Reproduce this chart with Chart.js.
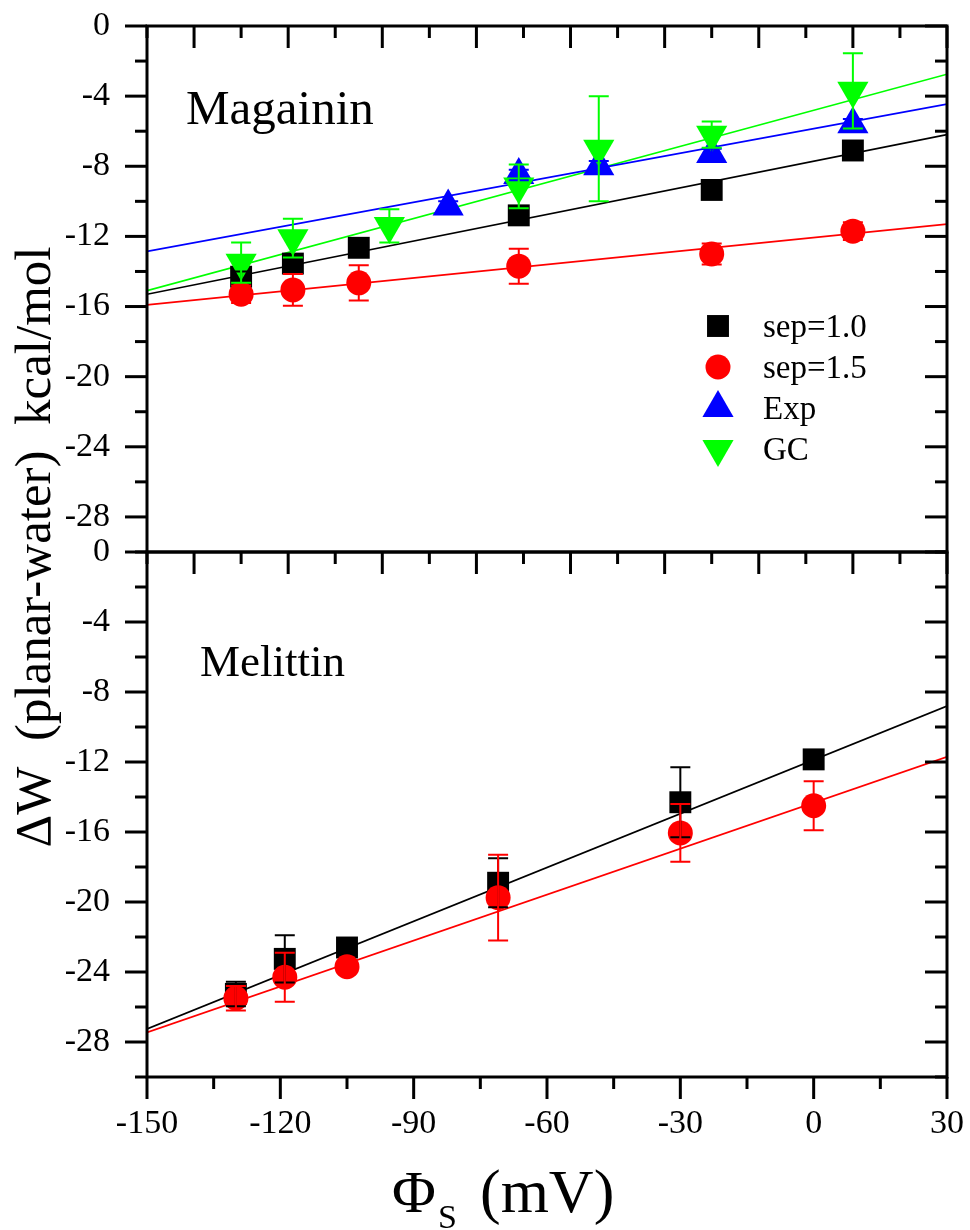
<!DOCTYPE html>
<html>
<head>
<meta charset="utf-8">
<script src="https://cdn.jsdelivr.net/npm/chart.js@4.4.1/dist/chart.umd.min.js"></script>
<style>
  html, body { margin: 0; padding: 0; background: #fff; }
  #wrap { position: relative; width: 970px; height: 1230px; }
  #wrap canvas { position: absolute; left: 0; top: 0; }
</style>
</head>
<body>
<div id="wrap">
  <canvas id="melittin" width="970" height="1230"></canvas>
  <canvas id="magainin" width="970" height="1230"></canvas>
</div>
<script>
// Magainin (upper panel), potential axis runs -150..20 mV
const magX = [-130, -119, -105, -71, -30, 0];
const magSep10 = [-14.3, -13.55, -12.65, -10.8, -9.35, -7.1];
const magSep10Err = [0.3, 0.3, 0.3, 0.3, 0.3, 0.3];
const magSep15 = [-15.3, -15.05, -14.65, -13.7, -13.0, -11.7];
const magSep15Err = [0.5, 0.9, 1.0, 1.0, 0.6, 0.5];
const magExpX = [-86, -71, -54, -30, 0];
const magExp = [-10.3, -8.5, -8.0, -7.3, -5.6];
const magExpErr = [0.3, 0.3, 0.3, 0.3, 0.3];
const magGcX = [-130, -119, -98.5, -71, -54, -30, 0];
const magGc = [-13.5, -12.1, -11.4, -9.15, -7.0, -6.2, -3.7];
const magGcErr = [1.15, 1.1, 0.95, 1.25, 3.0, 0.75, 2.15];

// linear fits, value at both ends of the axis
const magFitX = [-150, 20];
const magFitSep10 = [-15.3, -6.2];
const magFitSep15 = [-15.9, -11.3];
const magFitExp = [-12.85, -4.45];
const magFitGc = [-15.1, -2.75];

// Melittin (lower panel), potential axis runs -150..30 mV
const melX = [-130, -119, -105, -71, -30, 0];
const melSep10 = [-25.25, -23.25, -22.6, -18.9, -14.3, -11.85];
const melSep10Err = [0.7, 1.35, 0.3, 1.4, 2.0, 0.3];
const melSep15 = [-25.5, -24.3, -23.7, -19.75, -16.05, -14.5];
const melSep15Err = [0.7, 1.4, 0.3, 2.45, 1.65, 1.4];

const melFitX = [-150, 30];
const melFitSep10 = [-27.25, -8.8];
const melFitSep15 = [-27.45, -11.7];

// tick values
const yLabels = [0, -4, -8, -12, -16, -20, -24, -28];
const yMinor = [-2, -6, -10, -14, -18, -22, -26, -30];
const magXMajor = [-140, -120, -100, -80, -60, -40, -20, 0, 20];
const magXMinor = [-150, -130, -110, -90, -70, -50, -30, -10, 10];
const melXLabels = [-150, -120, -90, -60, -30, 0, 30];
const melXMinor = [-135, -105, -75, -45, -15, 15];

const SERIF = '"Liberation Serif", "Times New Roman", serif';
const BLACK = '#000000', RED = '#ff0000', BLUE = '#0000ff', GREEN = '#00ff00';

function pts(xs, ys) {
    return xs.map((x, i) => ({ x: x, y: ys[i] }));
}

function markerSet(label, xs, ys, errs, color, style, radius, rotation, order) {
    return {
        type: 'scatter', label: label, data: pts(xs, ys), errorBars: errs,
        backgroundColor: color, borderColor: color, borderWidth: 0,
        pointStyle: style, pointRadius: radius, pointHoverRadius: radius,
        pointRotation: rotation, order: order
    };
}

function fitLine(xs, ys, color) {
    return {
        type: 'line', data: pts(xs, ys), borderColor: color, borderWidth: 1.7,
        pointRadius: 0, fill: false, order: 10
    };
}

function yScale() {
    return {
        type: 'linear', min: -30, max: 0,
        afterBuildTicks: s => { s.ticks = yLabels.map(v => ({ value: v })); },
        ticks: { font: { family: SERIF, size: 34 }, color: '#000', padding: 15 },
        grid: { display: false, drawTicks: true, tickLength: 22 },
        border: { display: false },
        afterFit: s => {
            s.width = 147;
            // labels may hang over the plot edge, keep the plot box fixed
            s.paddingTop = 0;
            s.paddingBottom = 0;
        }
    };
}

// box around the plot area with major/minor tick marks
const frameTicks = {
    id: 'frameTicks',
    afterDraw(chart, args, opts) {
        const ctx = chart.ctx, a = chart.chartArea;
        const xs = chart.scales.x, ys = chart.scales.y;
        const sides = opts.sides;
        const seg = (x1, y1, x2, y2) => { ctx.beginPath(); ctx.moveTo(x1, y1); ctx.lineTo(x2, y2); ctx.stroke(); };
        ctx.save();
        ctx.strokeStyle = '#000';
        ctx.lineWidth = 3;
        ctx.lineJoin = 'miter';
        ctx.strokeRect(a.left, a.top, a.right - a.left, a.bottom - a.top);
        const xTicks = (vals, len) => vals.forEach(v => {
            const px = xs.getPixelForValue(v);
            if (sides.top) seg(px, a.top, px, a.top + (sides.top === 'in' ? len : -len));
            if (sides.bottom) seg(px, a.bottom, px, a.bottom + (sides.bottom === 'out' ? len : -len));
        });
        const yTicks = (vals, len) => vals.forEach(v => {
            const py = ys.getPixelForValue(v);
            if (sides.left) seg(a.left, py, a.left + (sides.left === 'in' ? len : -len), py);
            if (sides.right) seg(a.right, py, a.right + (sides.right === 'out' ? len : -len), py);
        });
        xTicks(opts.xMajor, 22);
        xTicks(opts.xMinor, 12);
        yTicks(opts.yMajor, 22);
        yTicks(opts.yMinor, 12);
        ctx.restore();
    }
};

const errorBars = {
    id: 'errorBars',
    afterDatasetsDraw(chart) {
        const ctx = chart.ctx;
        chart.data.datasets.forEach((ds, i) => {
            if (!ds.errorBars) return;
            const meta = chart.getDatasetMeta(i);
            const xs = chart.scales[meta.xAxisID], ys = chart.scales[meta.yAxisID];
            ctx.save();
            ctx.strokeStyle = ds.borderColor;
            ctx.lineWidth = 2;
            ds.data.forEach((p, j) => {
                const e = ds.errorBars[j];
                const px = xs.getPixelForValue(p.x);
                const top = ys.getPixelForValue(p.y + e);
                const bot = ys.getPixelForValue(p.y - e);
                ctx.beginPath();
                ctx.moveTo(px, top); ctx.lineTo(px, bot);
                ctx.moveTo(px - 10, top); ctx.lineTo(px + 10, top);
                ctx.moveTo(px - 10, bot); ctx.lineTo(px + 10, bot);
                ctx.stroke();
            });
            ctx.restore();
        });
    }
};

const panelLabel = {
    id: 'panelLabel',
    afterDraw(chart, args, opts) {
        const ctx = chart.ctx;
        ctx.save();
        ctx.fillStyle = '#000';
        ctx.font = opts.size + 'px ' + SERIF;
        ctx.textBaseline = 'alphabetic';
        ctx.fillText(opts.text, opts.x, opts.y);
        ctx.restore();
    }
};

// symbol key built from the marker datasets
const markerKey = {
    id: 'markerKey',
    afterDraw(chart, args, opts) {
        const ctx = chart.ctx;
        const sets = chart.data.datasets.filter(ds => ds.type === 'scatter');
        ctx.save();
        ctx.font = opts.size + 'px ' + SERIF;
        ctx.textBaseline = 'alphabetic';
        sets.forEach((ds, i) => {
            const y = opts.y + i * opts.step;
            ctx.fillStyle = ds.backgroundColor;
            Chart.helpers.drawPoint(ctx, {
                pointStyle: ds.pointStyle, radius: ds.pointRadius,
                rotation: ds.pointRotation, borderWidth: 0
            }, opts.x, y);
            ctx.fillStyle = '#000';
            ctx.fillText(ds.label, opts.textX, y + opts.size * 0.33);
        });
        ctx.restore();
    }
};

const axisTitles = {
    id: 'axisTitles',
    afterDraw(chart) {
        const ctx = chart.ctx;
        ctx.save();
        ctx.fillStyle = '#000';
        ctx.textBaseline = 'alphabetic';
        // x title: Phi with subscript S
        ctx.font = '60px ' + SERIF;
        ctx.fillText('\u03A6', 392, 1212);
        ctx.font = '62px ' + SERIF;
        ctx.fillText('(mV)', 480, 1212);
        ctx.font = '34px ' + SERIF;
        ctx.fillText('S', 438, 1228);
        // y title, rotated
        ctx.translate(50, 547);
        ctx.rotate(-Math.PI / 2);
        ctx.font = '51px ' + SERIF;
        ctx.textAlign = 'center';
        ctx.fillText('\u0394W  (planar-water)  kcal/mol', 0, 0);
        ctx.restore();
    }
};

Chart.defaults.font.family = SERIF;

new Chart(document.getElementById('magainin'), {
    type: 'scatter',
    data: {
        datasets: [
            fitLine(magFitX, magFitSep10, BLACK),
            fitLine(magFitX, magFitSep15, RED),
            fitLine(magFitX, magFitExp, BLUE),
            fitLine(magFitX, magFitGc, GREEN),
            markerSet('sep=1.0', magX, magSep10, magSep10Err, BLACK, 'rect', 15.5, 0, 4),
            markerSet('sep=1.5', magX, magSep15, magSep15Err, RED, 'circle', 12.5, 0, 3),
            markerSet('Exp', magExpX, magExp, magExpErr, BLUE, 'triangle', 18, 0, 2),
            markerSet('GC', magGcX, magGc, magGcErr, GREEN, 'triangle', 18, 180, 1)
        ]
    },
    options: {
        responsive: false,
        animation: false,
        events: [],
        layout: { padding: { left: 0, top: 26, right: 23, bottom: 678 } },
        scales: {
            x: {
                type: 'linear', min: -150, max: 20,
                ticks: { display: false },
                grid: { display: false, drawTicks: false },
                border: { display: false },
                afterFit: s => { s.height = 0; }
            },
            y: yScale()
        },
        plugins: {
            legend: { display: false },
            tooltip: { enabled: false },
            frameTicks: {
                sides: { top: 'in', bottom: 'out', left: 'out', right: 'in' },
                xMajor: magXMajor, xMinor: magXMinor, yMajor: yLabels, yMinor: yMinor
            },
            panelLabel: { text: 'Magainin', x: 186, y: 124, size: 49 },
            markerKey: { x: 718, y: 326, step: 41, textX: 763, size: 33 }
        }
    },
    plugins: [frameTicks, errorBars, panelLabel, markerKey]
});

new Chart(document.getElementById('melittin'), {
    type: 'scatter',
    data: {
        datasets: [
            fitLine(melFitX, melFitSep10, BLACK),
            fitLine(melFitX, melFitSep15, RED),
            markerSet('sep=1.0', melX, melSep10, melSep10Err, BLACK, 'rect', 15.5, 0, 4),
            markerSet('sep=1.5', melX, melSep15, melSep15Err, RED, 'circle', 12.5, 0, 3)
        ]
    },
    options: {
        responsive: false,
        animation: false,
        events: [],
        layout: { padding: { left: 0, top: 552, right: 23, bottom: 93 } },
        scales: {
            x: {
                type: 'linear', min: -150, max: 30,
                afterBuildTicks: s => { s.ticks = melXLabels.map(v => ({ value: v })); },
                ticks: { font: { family: SERIF, size: 34 }, color: '#000', padding: 6, maxRotation: 0 },
                grid: { display: false, drawTicks: true, tickLength: 21 },
                border: { display: false },
                afterFit: s => { s.height = 60; }
            },
            y: yScale()
        },
        plugins: {
            legend: { display: false },
            tooltip: { enabled: false },
            frameTicks: {
                sides: { top: null, bottom: 'out', left: 'out', right: 'in' },
                xMajor: melXLabels, xMinor: melXMinor, yMajor: yLabels, yMinor: yMinor
            },
            panelLabel: { text: 'Melittin', x: 200, y: 676, size: 45 }
        }
    },
    plugins: [frameTicks, errorBars, panelLabel, axisTitles]
});
</script>
</body>
</html>
